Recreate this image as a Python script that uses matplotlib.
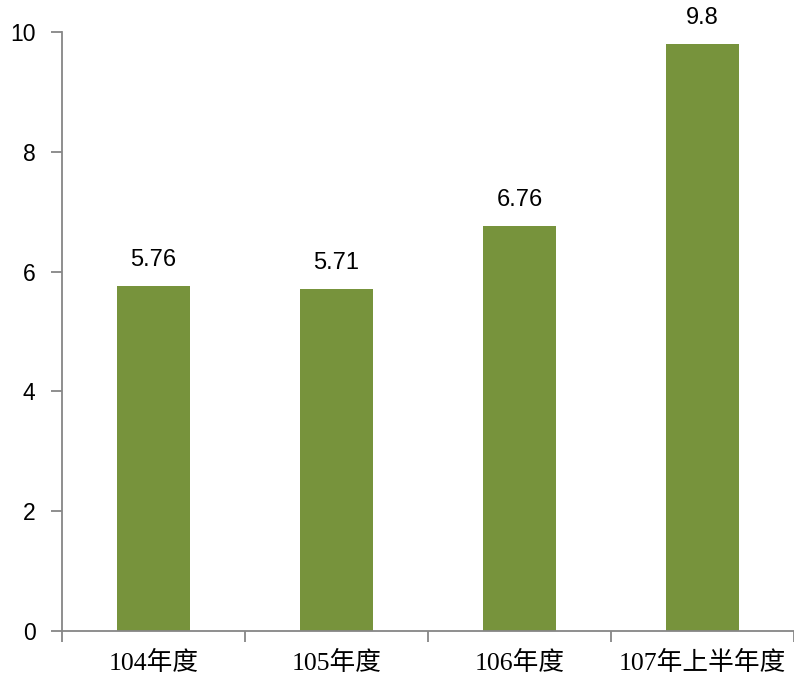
import matplotlib
matplotlib.use("Agg")
import matplotlib.pyplot as plt
from matplotlib.ticker import FixedLocator

categories = ["104年度", "105年度", "106年度", "107年上半年度"]
values = [5.76, 5.71, 6.76, 9.8]
value_labels = ["5.76", "5.71", "6.76", "9.8"]
y_ticks = [0, 2, 4, 6, 8, 10]

bar_color = "#77933C"
axis_color = "#868686"

fig = plt.figure(figsize=(7.94, 6.79), dpi=100)
ax = fig.add_axes([0.078, 0.0707, 0.922, 0.8822])

x = list(range(len(categories)))
bars = ax.bar(x, values, width=0.4, color=bar_color, zorder=2)

for rect, lab in zip(bars, value_labels):
    ax.annotate(lab, (rect.get_x() + rect.get_width() / 2, rect.get_height()),
                xytext=(0, 11), textcoords="offset points",
                ha="center", va="bottom", fontsize=17,
                family=["Liberation Sans", "DejaVu Sans"], color="#000000")

ax.set_xlim(-0.5, len(categories) - 0.5)
ax.set_ylim(0, 10)

# y axis
ax.set_yticks(y_ticks)
ax.set_yticklabels([str(t) for t in y_ticks], family=["Liberation Sans", "DejaVu Sans"],
                   fontsize=16.5)
ax.tick_params(axis="y", direction="out", length=8, width=1.3, color=axis_color, pad=11)

# x axis: labels centered on bars, tick marks at category boundaries
ax.set_xticks(x)
ax.set_xticklabels(categories, family=["Liberation Serif", "Noto Sans CJK TC"], fontsize=18.5)
ax.tick_params(axis="x", which="major", length=0, pad=14)
ax.xaxis.set_minor_locator(FixedLocator([i - 0.5 for i in range(len(categories) + 1)]))
ax.tick_params(axis="x", which="minor", direction="out", length=8, width=1.3, color=axis_color)

for side in ("top", "right"):
    ax.spines[side].set_visible(False)
for side in ("left", "bottom"):
    ax.spines[side].set_color(axis_color)
    ax.spines[side].set_linewidth(1.3)

fig.savefig("out.png", dpi=100)
